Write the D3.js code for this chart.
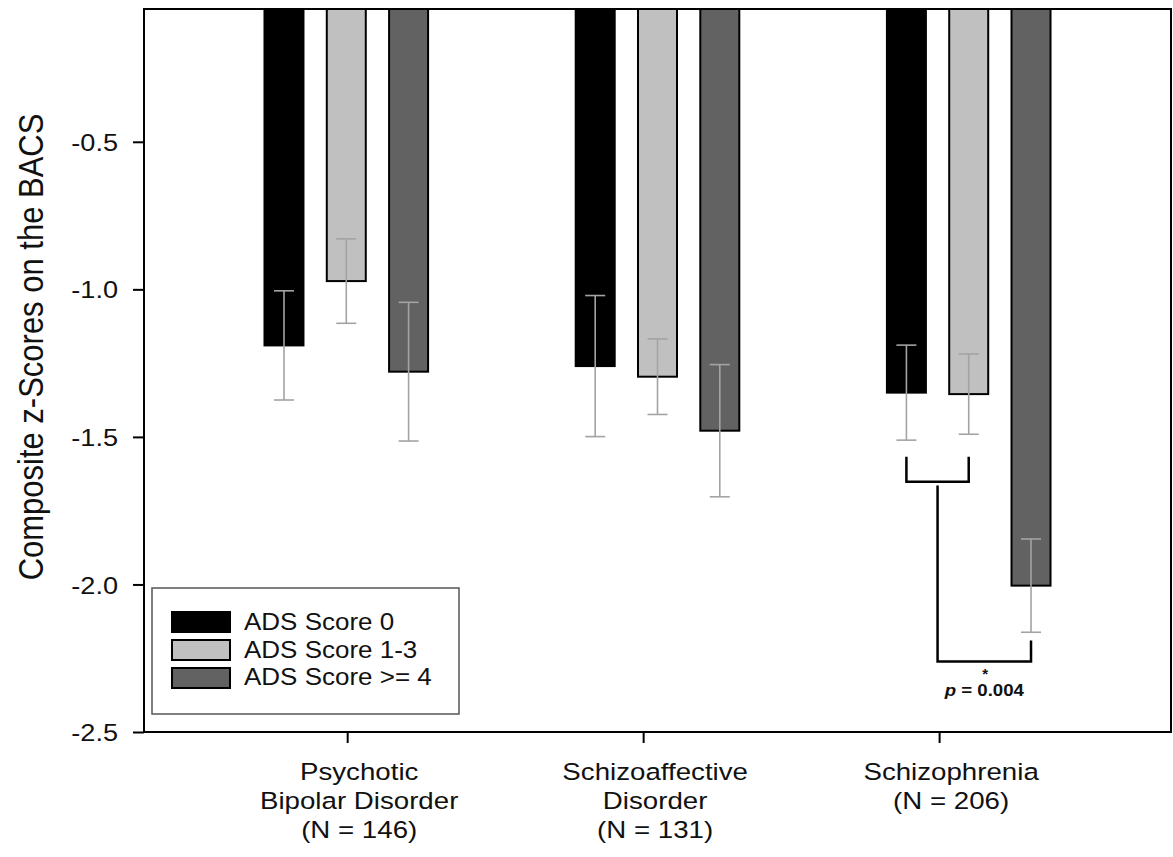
<!DOCTYPE html>
<html>
<head>
<meta charset="utf-8">
<script src="https://cdn.jsdelivr.net/npm/d3@7"></script>
<style>
  body { margin: 0; background: #fff; }
  svg { display: block; }
  text { font-family: "Liberation Sans", Arial, sans-serif; fill: #111; }
</style>
</head>
<body>
<svg id="chart" width="1173" height="857"></svg>
<script>
// ---------------- data ----------------
const categories = ["Psychotic Bipolar Disorder", "Schizoaffective Disorder", "Schizophrenia"];
const categoryLabelLines = [
  ["Psychotic", "Bipolar Disorder", "(N = 146)"],
  ["Schizoaffective", "Disorder", "(N = 131)"],
  ["Schizophrenia", "(N = 206)"]
];
const seriesNames = ["ADS Score 0", "ADS Score 1-3", "ADS Score >= 4"];
const seriesColors = ["#000000", "#c0c0c0", "#626262"];
const meansScore0  = [-1.19, -1.26, -1.35];
const meansScore13 = [-0.972, -1.296, -1.355];
const meansScore4  = [-1.279, -1.479, -2.004];
const errScore0  = [0.185, 0.239, 0.161];
const errScore13 = [0.143, 0.128, 0.136];
const errScore4  = [0.235, 0.224, 0.158];
const yTicks = [-0.5, -1.0, -1.5, -2.0, -2.5];
const yDomain = [-2.5, -0.05];
const yTitle = "Composite z-Scores on the BACS";
// significance annotation (values in data units)
const sigUpperTop = -1.567, sigUpperBottom = -1.652;
const sigStemTop = -1.665, sigLowerLine = -2.261, sigRightTop = -2.19;
const sigStar = "*";
const sigLabelP = "p", sigLabelRest = " = 0.004";

// ---------------- layout ----------------
const K = 1.13; // horizontal glyph stretch of the original
const plot = { left: 144, right: 1171, top: 9, bottom: 732 };
const svg = d3.select("#chart");

const x = d3.scalePoint().domain(categories).range([plot.left, plot.right]).padding(0.65);
const xInner = d3.scalePoint().domain(seriesNames).range([-62.3, 62.3]);
const xAxisScale = d3.scalePoint().domain(categories).range([plot.left, plot.right]).padding(0.735).align(0.467);
const y = d3.scaleLinear().domain(yDomain).range([plot.bottom, plot.top]);
const barW = 39;

const means = [meansScore0, meansScore13, meansScore4];
const errs = [errScore0, errScore13, errScore4];
const records = [];
seriesNames.forEach((s, si) => {
  categories.forEach((c, ci) => {
    records.push({ cat: c, ser: s, si, v: means[si][ci], e: errs[si][ci] });
  });
});

function stretchText(sel, tx, ty) {
  sel.attr("x", 0).attr("y", 0).attr("transform", `translate(${tx},${ty}) scale(${K},1)`);
}

// bars
svg.append("g").selectAll("rect").data(records).join("rect")
  .attr("x", d => x(d.cat) + xInner(d.ser) - barW / 2)
  .attr("y", y(yDomain[1]))
  .attr("width", barW)
  .attr("height", d => y(d.v) - y(yDomain[1]))
  .attr("fill", d => seriesColors[d.si])
  .attr("stroke", "#000")
  .attr("stroke-width", 2);

// error bars
const eg = svg.append("g").attr("stroke", "#a3a3a3").attr("stroke-width", 1.6).attr("fill", "none");
records.forEach(d => {
  const cx = x(d.cat) + xInner(d.ser);
  eg.append("line").attr("x1", cx).attr("x2", cx).attr("y1", y(d.v + d.e)).attr("y2", y(d.v - d.e));
  eg.append("line").attr("x1", cx - 10).attr("x2", cx + 10).attr("y1", y(d.v + d.e)).attr("y2", y(d.v + d.e));
  eg.append("line").attr("x1", cx - 10).attr("x2", cx + 10).attr("y1", y(d.v - d.e)).attr("y2", y(d.v - d.e));
});

// frame
svg.append("rect")
  .attr("x", plot.left).attr("y", plot.top)
  .attr("width", plot.right - plot.left).attr("height", plot.bottom - plot.top)
  .attr("fill", "none").attr("stroke", "#000").attr("stroke-width", 2);

// y axis
const yAxisG = svg.append("g").attr("transform", `translate(${plot.left},0)`)
  .call(d3.axisLeft(y).tickValues(yTicks).tickFormat(d => d.toFixed(1)).tickSize(11).tickSizeOuter(0));
yAxisG.select(".domain").remove();
yAxisG.selectAll(".tick line").attr("stroke", "#000").attr("stroke-width", 2);
yAxisG.selectAll(".tick text").each(function () {
  const t = d3.select(this);
  t.attr("text-anchor", "end").style("font-size", "24px").attr("font-family", null);
  stretchText(t, -26, 0);
  t.attr("dy", "0.36em");
});

// x axis ticks
const xAxisG = svg.append("g").attr("transform", `translate(0,${plot.bottom})`)
  .call(d3.axisBottom(xAxisScale).tickSize(11).tickSizeOuter(0).tickFormat(""));
xAxisG.select(".domain").remove();
xAxisG.selectAll(".tick line").attr("stroke", "#000").attr("stroke-width", 2);

// x category labels
categories.forEach((c, ci) => {
  categoryLabelLines[ci].forEach((line, li) => {
    const t = svg.append("text").attr("text-anchor", "middle").style("font-size", "24.5px").text(line);
    stretchText(t, xAxisScale(c) + 12, 780 + li * 29);
  });
});

// y title
svg.append("text")
  .attr("text-anchor", "middle")
  .attr("transform", `translate(43,347) scale(${K},1) rotate(-90)`)
  .style("font-size", "31px")
  .text(yTitle);

// legend
const lg = svg.append("g");
lg.append("rect").attr("x", 152).attr("y", 588).attr("width", 307).attr("height", 126)
  .attr("fill", "#fff").attr("stroke", "#555").attr("stroke-width", 1.5);
seriesNames.forEach((s, i) => {
  lg.append("rect").attr("x", 172).attr("y", 612 + i * 28).attr("width", 58).attr("height", 20)
    .attr("fill", seriesColors[i]).attr("stroke", "#000").attr("stroke-width", 2);
  const t = lg.append("text").style("font-size", "23px").text(s);
  stretchText(t, 244, 630 + i * 27.5);
});

// significance brackets
const sc = categories[2];
const xs0 = x(sc) + xInner(seriesNames[0]);
const xs1 = x(sc) + xInner(seriesNames[1]);
const xs2 = x(sc) + xInner(seriesNames[2]);
const xm = (xs0 + xs1) / 2;
const bg = svg.append("g").attr("stroke", "#000").attr("stroke-width", 2.5).attr("fill", "none");
bg.append("path").attr("d", `M${xs0},${y(sigUpperTop)}V${y(sigUpperBottom)}H${xs1}V${y(sigUpperTop)}`);
bg.append("path").attr("d", `M${xm},${y(sigStemTop)}V${y(sigLowerLine)}H${xs2}V${y(sigRightTop)}`);

const midLower = (xm + xs2) / 2;
svg.append("text").attr("text-anchor", "middle").attr("x", midLower + 1).attr("y", 679)
  .style("font-size", "15px").style("font-weight", "bold").text(sigStar);
const pt = svg.append("text").attr("text-anchor", "middle").style("font-size", "16.5px").style("font-weight", "bold");
pt.append("tspan").style("font-style", "italic").text(sigLabelP);
pt.append("tspan").text(sigLabelRest);
stretchText(pt, midLower, 696);
</script>
</body>
</html>
